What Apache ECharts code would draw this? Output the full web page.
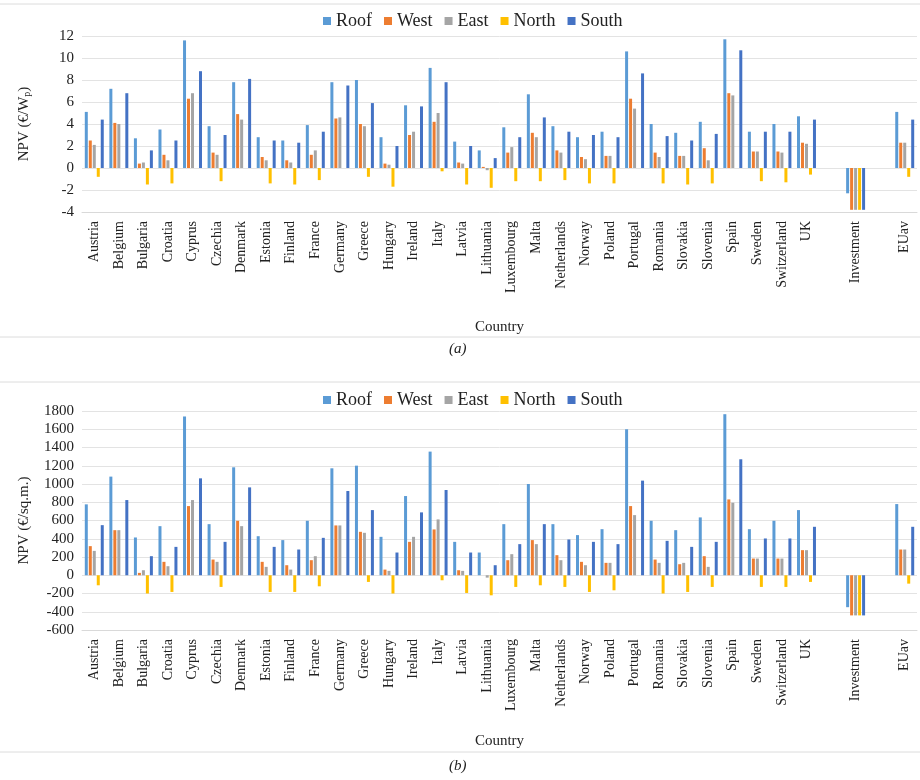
<!DOCTYPE html>
<html>
<head>
<meta charset="utf-8">
<script src="https://cdn.jsdelivr.net/npm/echarts@6/dist/echarts.min.js"></script>
<style>
  html, body { margin: 0; padding: 0; background: #fff; }
  #chart { width: 920px; height: 780px; }
</style>
</head>
<body>
<div id="chart"></div>
<script>
// categories (blank slots keep the gaps around "Investment")
const countries = ['Austria', 'Belgium', 'Bulgaria', 'Croatia', 'Cyprus', 'Czechia', 'Denmark', 'Estonia',
  'Finland', 'France', 'Germany', 'Greece', 'Hungary', 'Ireland', 'Italy', 'Latvia', 'Lithuania',
  'Luxembourg', 'Malta', 'Netherlands', 'Norway', 'Poland', 'Portugal', 'Romania', 'Slovakia',
  'Slovenia', 'Spain', 'Sweden', 'Switzerland', 'UK', '', 'Investment', '', 'EUav']
const orientations = ['Roof', 'West', 'East', 'North', 'South']

// (a) NPV per Wp
const roofA  = [5.1, 7.2, 2.7, 3.5, 11.6, 3.8, 7.8, 2.8, 2.5, 3.9, 7.8, 8.0, 2.8, 5.7, 9.1, 2.4, 1.6, 3.7, 6.7, 3.8, 2.8, 3.3, 10.6, 4.0, 3.2, 4.2, 11.7, 3.3, 4.0, 4.7, null, -2.3, null, 5.1]
const westA  = [2.5, 4.1, 0.4, 1.2, 6.3, 1.4, 4.9, 1.0, 0.7, 1.2, 4.5, 4.0, 0.4, 3.0, 4.2, 0.5, 0.1, 1.4, 3.2, 1.6, 1.0, 1.1, 6.3, 1.4, 1.1, 1.8, 6.8, 1.5, 1.5, 2.3, null, -3.8, null, 2.3]
const eastA  = [2.1, 4.0, 0.5, 0.7, 6.8, 1.2, 4.4, 0.7, 0.5, 1.6, 4.6, 3.8, 0.3, 3.3, 5.0, 0.4, -0.2, 1.9, 2.8, 1.4, 0.8, 1.1, 5.4, 1.0, 1.1, 0.7, 6.6, 1.5, 1.4, 2.2, null, -3.8, null, 2.3]
const northA = [-0.8, 0, -1.5, -1.4, 0, -1.2, 0, -1.4, -1.5, -1.1, 0, -0.8, -1.7, 0, -0.3, -1.5, -1.8, -1.2, -1.2, -1.1, -1.4, -1.4, 0, -1.4, -1.5, -1.4, 0, -1.2, -1.3, -0.6, null, -3.8, null, -0.8]
const southA = [4.4, 6.8, 1.6, 2.5, 8.8, 3.0, 8.1, 2.5, 2.3, 3.3, 7.5, 5.9, 2.0, 5.6, 7.8, 2.0, 0.9, 2.8, 4.6, 3.3, 3.0, 2.8, 8.6, 2.9, 2.5, 3.1, 10.7, 3.3, 3.3, 4.4, null, -3.8, null, 4.4]

// (b) NPV per sq.m.
const roofB  = [777, 1081, 414, 538, 1740, 560, 1183, 428, 385, 597, 1172, 1201, 421, 868, 1355, 366, 249, 560, 1000, 560, 440, 505, 1600, 597, 494, 634, 1765, 505, 597, 714, null, -350, null, 780]
const westB  = [319, 494, 26, 147, 758, 172, 597, 147, 110, 165, 546, 476, 62, 366, 502, 55, 0, 165, 385, 220, 147, 136, 758, 172, 121, 209, 831, 183, 183, 275, null, -440, null, 282]
const eastB  = [267, 494, 55, 99, 824, 147, 538, 92, 62, 209, 546, 465, 48, 421, 612, 48, -26, 231, 341, 165, 110, 136, 659, 136, 136, 92, 795, 183, 183, 275, null, -440, null, 282]
const northB = [-110, 0, -200, -183, 0, -128, 0, -183, -183, -121, 0, -73, -200, 0, -55, -194, -220, -128, -110, -128, -183, -165, 0, -200, -183, -128, 0, -128, -128, -73, null, -440, null, -92]
const southB = [549, 824, 209, 311, 1062, 366, 963, 311, 282, 410, 923, 714, 249, 689, 934, 249, 110, 341, 560, 392, 366, 341, 1037, 377, 311, 366, 1271, 403, 403, 531, null, -440, null, 531]

const colors = ['#5B9BD5', '#ED7D31', '#A5A5A5', '#FFC000', '#4472C4']
const serif = '"Liberation Serif", "DejaVu Serif", serif'

const el = document.getElementById('chart')
const chart = echarts.init(el, null, {renderer: 'canvas'})

function xAxisFor(gridIndex, nameGap) {
  return {
    type: 'category',
    gridIndex,
    data: countries,
    position: 'bottom',
    axisLine: {onZero: false, lineStyle: {color: '#d9d9d9'}},
    axisTick: {show: false},
    axisLabel: {interval: 0, rotate: 90, color: '#222', fontFamily: serif, fontSize: 14, margin: 9},
    name: 'Country',
    nameLocation: 'middle',
    nameGap,
    nameTextStyle: {color: '#222', fontFamily: serif, fontSize: 15}
  }
}

function yAxisFor(gridIndex, min, max, interval, name, nameGap) {
  return {
    type: 'value',
    gridIndex,
    min, max, interval,
    axisLine: {show: false},
    axisTick: {show: false},
    splitLine: {lineStyle: {color: '#e3e3e3'}},
    axisLabel: {color: '#222', fontFamily: serif, fontSize: 15, margin: 8, formatter: v => String(v)},
    name,
    nameLocation: 'middle',
    nameGap,
    nameTextStyle: {
      color: '#222', fontFamily: serif, fontSize: 15,
      rich: {sub: {fontFamily: serif, fontSize: 10, verticalAlign: 'bottom', padding: [6, 0, 0, 0]}}
    }
  }
}

const dataA = [roofA, westA, eastA, northA, southA]
const dataB = [roofB, westB, eastB, northB, southB]

function barSeries(data, idx) {
  return orientations.map((name, i) => ({
    name,
    type: 'bar',
    xAxisIndex: idx,
    yAxisIndex: idx,
    barWidth: 3,
    barGap: '33%',
    itemStyle: {color: colors[i]},
    data: data[i]
  }))
}

function legendAt(top) {
  return {
    top, left: 318,
    data: orientations,
    icon: 'rect',
    itemWidth: 8, itemHeight: 8, itemGap: 12,
    textStyle: {color: '#222', fontFamily: serif, fontSize: 18}
  }
}

chart.setOption({
  animation: false,
  color: colors,
  legend: [legendAt(7), legendAt(386)],
  grid: [
    {left: 82, right: 3, top: 36, height: 176},
    {left: 82, right: 3, top: 411, height: 219}
  ],
  xAxis: [xAxisFor(0, 108), xAxisFor(1, 104)],
  yAxis: [
    yAxisFor(0, -4, 12, 2, 'NPV (€/W{sub|p})', 50),
    yAxisFor(1, -600, 1800, 200, 'NPV (€/sq.m.)', 50)
  ],
  graphic: [
    {type: 'line', shape: {x1: 0, y1: 4, x2: 920, y2: 4}, style: {stroke: '#dcdcdc', lineWidth: 1}},
    {type: 'line', shape: {x1: 0, y1: 337, x2: 920, y2: 337}, style: {stroke: '#dcdcdc', lineWidth: 1}},
    {type: 'line', shape: {x1: 0, y1: 382, x2: 920, y2: 382}, style: {stroke: '#dcdcdc', lineWidth: 1}},
    {type: 'line', shape: {x1: 0, y1: 752, x2: 920, y2: 752}, style: {stroke: '#dcdcdc', lineWidth: 1}},
    {type: 'text', left: 449, top: 342, style: {text: '(a)', font: 'italic 15px ' + serif, fill: '#222'}},
    {type: 'text', left: 449, top: 759, style: {text: '(b)', font: 'italic 15px ' + serif, fill: '#222'}}
  ],
  series: [...barSeries(dataA, 0), ...barSeries(dataB, 1)]
})
</script>
</body>
</html>
